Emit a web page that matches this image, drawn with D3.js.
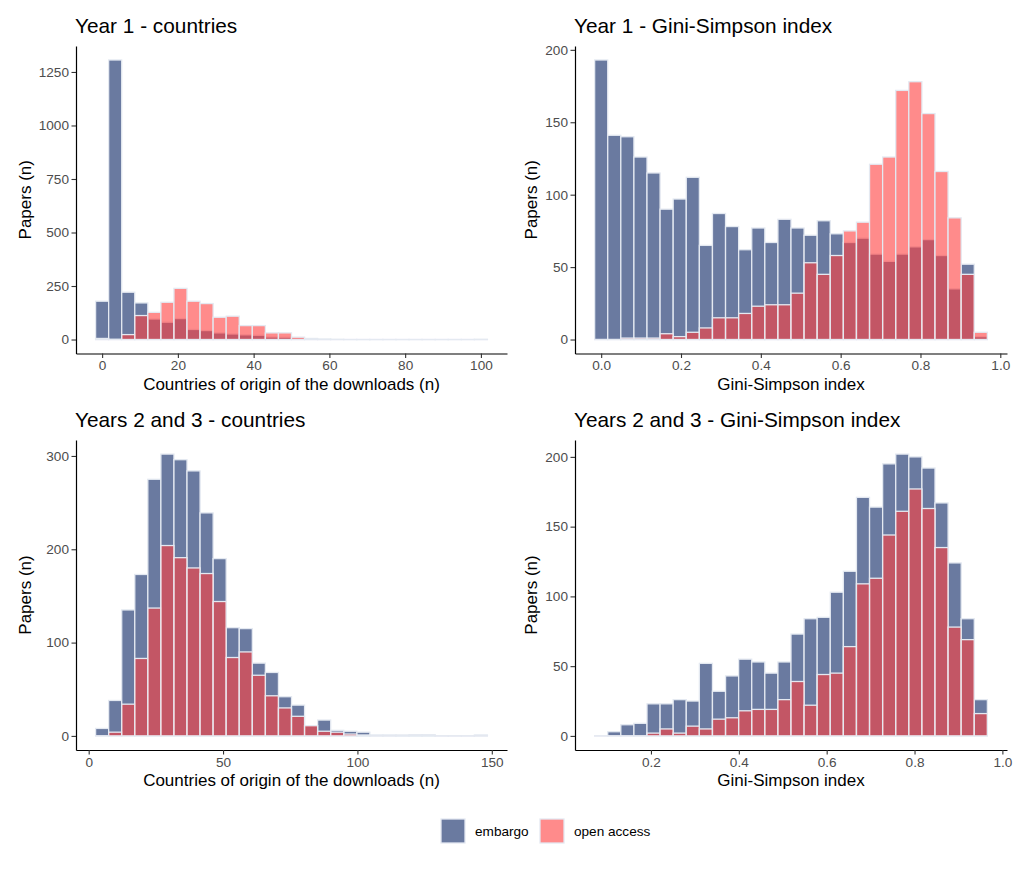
<!DOCTYPE html>
<html>
<head>
<meta charset="utf-8">
<script src="https://cdn.jsdelivr.net/npm/d3@7"></script>
<style>
  body { margin: 0; background: #fff; }
  svg { font-family: "Liberation Sans", Arial, sans-serif; }
</style>
</head>
<body>
<script>
// ---- data (30 bins per histogram) ----
// bin centres
const binsY1Countries = d3.range(30).map(i => 0 + i * 3.448);
const binsY1Gini = d3.range(30).map(i => 0 + i * 0.0328);
const binsY23Countries = d3.range(30).map(i => 5 + i * 4.86);
const binsY23Gini = d3.range(30).map(i => 0.0867 + i * 0.0298);

// counts, embargo
const embargoY1Countries = [179, 1306, 221, 171, 96, 81, 98, 47, 42, 31, 26, 22, 20, 12, 11, 5, 3, 1, 0, 0, 0, 0, 0, 0, 0, 0, 0, 0, 0, 1];
const embargoY1Gini = [193, 141, 140, 126, 115, 90, 97, 112, 65, 87, 78, 62, 77, 67, 83, 77, 72, 82, 73, 67, 70, 59, 54, 59, 64, 69, 58, 35, 52, 2];
const embargoY23Countries = [8, 38, 135, 173, 275, 302, 296, 284, 239, 190, 116, 115, 78, 68, 42, 33, 11, 17, 6, 5, 4, 1, 1, 0, 1, 1, 0, 0, 0, 1];
const embargoY23Gini = [0, 3, 8, 9, 23, 23, 26, 25, 52, 32, 43, 55, 53, 45, 53, 73, 84, 85, 103, 118, 171, 164, 195, 202, 200, 192, 167, 124, 84, 26];

// counts, open access
const openY1Countries = [5, 1, 23, 112, 127, 174, 239, 179, 168, 104, 109, 65, 65, 31, 31, 11, 5, 2, 1, 0, 0, 0, 0, 0, 0, 0, 0, 0, 0, 0];
const openY1Gini = [0, 0, 1, 1, 1, 4, 2, 5, 8, 15, 15, 18, 23, 24, 24, 32, 53, 45, 58, 75, 81, 121, 126, 172, 178, 156, 116, 84, 45, 5];
const openY23Countries = [0, 4, 34, 83, 137, 204, 191, 180, 174, 144, 84, 90, 65, 43, 30, 21, 11, 5, 4, 2, 1, 0, 0, 1, 1, 1, 0, 0, 0, 0];
const openY23Gini = [0, 0, 0, 0, 2, 5, 2, 7, 5, 12, 13, 18, 19, 19, 26, 39, 22, 44, 45, 64, 109, 113, 144, 161, 177, 163, 135, 78, 69, 16];

const seriesNames = ["embargo", "open access"];

// ---- layout ----
const width = 1024, height = 870;
const colors = { embargo: "#6a7aa0", open: "#ff3e3e" };
const openAlpha = 0.6;
const barStroke = "#e4e9f1";

const panels = [
    { title: "Year 1 - countries", xTitle: "Countries of origin of the downloads (n)",
      bins: binsY1Countries, embargo: embargoY1Countries, open: openY1Countries,
      xTicks: [0, 20, 40, 60, 80, 100], yTicks: [0, 250, 500, 750, 1000, 1250], fmt: d3.format("d"),
      left: 76, right: 507, top: 46, bottom: 353.5, yTitleX: 25.5 },
    { title: "Year 1 - Gini-Simpson index", xTitle: "Gini-Simpson index",
      bins: binsY1Gini, embargo: embargoY1Gini, open: openY1Gini,
      xTicks: [0, 0.2, 0.4, 0.6, 0.8, 1], yTicks: [0, 50, 100, 150, 200], fmt: d3.format(".1f"),
      left: 575, right: 1007, top: 46, bottom: 353.5, yTitleX: 531.5 },
    { title: "Years 2 and 3 - countries", xTitle: "Countries of origin of the downloads (n)",
      bins: binsY23Countries, embargo: embargoY23Countries, open: openY23Countries,
      xTicks: [0, 50, 100, 150], yTicks: [0, 100, 200, 300], fmt: d3.format("d"),
      left: 76, right: 507, top: 440, bottom: 750, yTitleX: 25.5 },
    { title: "Years 2 and 3 - Gini-Simpson index", xTitle: "Gini-Simpson index",
      bins: binsY23Gini, embargo: embargoY23Gini, open: openY23Gini,
      xTicks: [0.2, 0.4, 0.6, 0.8, 1], yTicks: [0, 50, 100, 150, 200], fmt: d3.format(".1f"),
      left: 575, right: 1007, top: 440, bottom: 750, yTitleX: 531.5 }
];

const svg = d3.select("body").append("svg")
    .attr("width", width)
    .attr("height", height);

// ggplot style 5% expansion
function expand(lo, hi) {
    let d = (hi - lo) * 0.05;
    return [lo - d, hi + d];
}

for (const p of panels) {
    const bw = p.bins[1] - p.bins[0];
    const x = d3.scaleLinear()
        .domain(expand(p.bins[0] - bw / 2, p.bins[p.bins.length - 1] + bw / 2))
        .range([p.left, p.right]);
    const ymax = d3.max(p.embargo.concat(p.open));
    const y = d3.scaleLinear()
        .domain(expand(0, ymax))
        .range([p.bottom, p.top]);

    const g = svg.append("g");

    function drawBars(values, fill, alpha) {
        g.append("g")
            .selectAll("rect")
            .data(values)
            .join("rect")
            .attr("x", (d, i) => x(p.bins[i] - bw / 2))
            .attr("width", (d, i) => x(p.bins[i] + bw / 2) - x(p.bins[i] - bw / 2))
            .attr("y", d => y(d))
            .attr("height", d => Math.max(y(0) - y(d), 0.01))
            .attr("fill", fill)
            .attr("fill-opacity", alpha)
            .attr("stroke", barStroke)
            .attr("stroke-width", 1.3);
    }
    drawBars(p.embargo, colors.embargo, 1);
    drawBars(p.open, colors.open, openAlpha);

    // axes
    const xAxis = g.append("g")
        .attr("transform", `translate(0,${p.bottom})`)
        .call(d3.axisBottom(x).tickValues(p.xTicks).tickFormat(p.fmt).tickSize(4.5).tickSizeOuter(0).tickPadding(2.5));
    const yAxis = g.append("g")
        .attr("transform", `translate(${p.left},0)`)
        .call(d3.axisLeft(y).tickValues(p.yTicks).tickFormat(d3.format("d")).tickSize(4.5).tickSizeOuter(0).tickPadding(2.5));
    for (const a of [xAxis, yAxis]) {
        a.select(".domain").attr("stroke", "#000").attr("stroke-width", 1.2);
        a.selectAll(".tick line").attr("stroke", "#333").attr("stroke-width", 1.1);
        a.selectAll(".tick text")
            .attr("fill", "#4d4d4d")
            .style("font-size", "13.6px")
            .style("font-family", "Liberation Sans, Arial, sans-serif");
    }

    // titles
    g.append("text")
        .attr("x", p.left - 1)
        .attr("y", p.top - 13)
        .style("font-size", "20.8px")
        .attr("fill", "#000")
        .text(p.title);
    g.append("text")
        .attr("x", (p.left + p.right) / 2)
        .attr("y", p.bottom + 36)
        .attr("text-anchor", "middle")
        .style("font-size", "17px")
        .text(p.xTitle);
    g.append("text")
        .attr("transform", `translate(${p.yTitleX},${(p.top + p.bottom) / 2}) rotate(-90)`)
        .attr("text-anchor", "middle")
        .attr("dy", "0.35em")
        .style("font-size", "17px")
        .text("Papers (n)");
}

// legend
const legendItems = [
    { name: seriesNames[0], fill: colors.embargo, alpha: 1, kx: 441, tx: 475 },
    { name: seriesNames[1], fill: colors.open, alpha: openAlpha, kx: 540, tx: 574 }
];
const legend = svg.append("g");
legend.selectAll("rect")
    .data(legendItems)
    .join("rect")
    .attr("x", d => d.kx)
    .attr("y", 819)
    .attr("width", 24)
    .attr("height", 24)
    .attr("fill", d => d.fill)
    .attr("fill-opacity", d => d.alpha)
    .attr("stroke", barStroke)
    .attr("stroke-width", 1.3);
legend.selectAll("text")
    .data(legendItems)
    .join("text")
    .attr("x", d => d.tx)
    .attr("y", 831)
    .attr("dy", "0.35em")
    .style("font-size", "13.6px")
    .text(d => d.name);
</script>
</body>
</html>
